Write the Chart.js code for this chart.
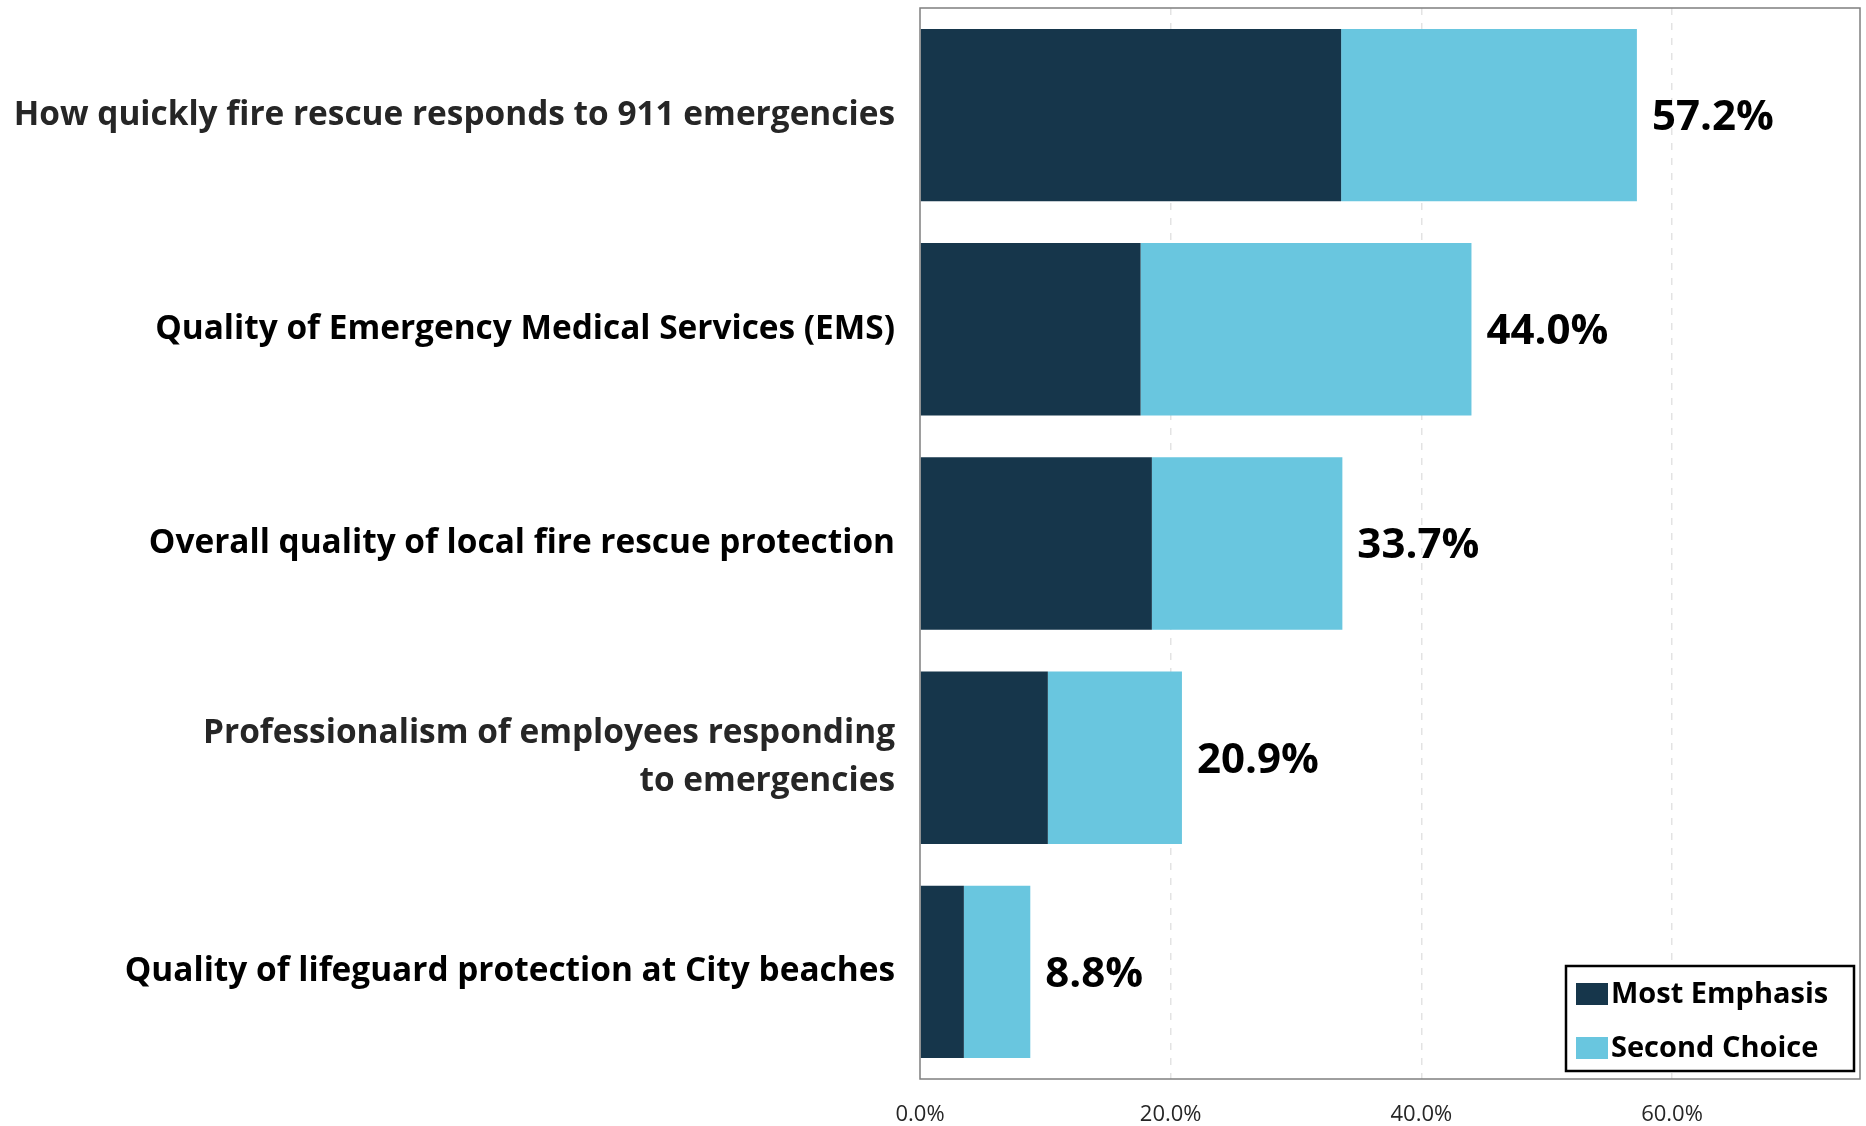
<!DOCTYPE html>
<html>
<head>
<meta charset="utf-8">
<title>Fire Rescue Emphasis</title>
<script src="https://cdn.jsdelivr.net/npm/chart.js@4"></script>
<style>
    html, body { margin: 0; padding: 0; background: #fff; }
    #wrap { width: 1866px; height: 1126px; }
</style>
</head>
<body>
<div id="wrap"><canvas id="emphasisChart" width="1866" height="1126"></canvas></div>
<script>
// categories (top to bottom)
const categories = [
    'How quickly fire rescue responds to 911 emergencies',
    'Quality of Emergency Medical Services (EMS)',
    'Overall quality of local fire rescue protection',
    ['Professionalism of employees responding', 'to emergencies'],
    'Quality of lifeguard protection at City beaches'
];
const seriesNames = ['Most Emphasis', 'Second Choice'];
// share of respondents, in percent
const mostEmphasis = [33.6, 17.6, 18.5, 10.2, 3.5];
const secondChoice = [23.6, 26.4, 15.2, 10.7, 5.3];
const totals = [57.2, 44.0, 33.7, 20.9, 8.8];
const xTicks = [0, 20, 40, 60];
const xMax = 75;

const barColors = ['#16364b', '#69c6df'];
const labelColors = ['#262626', '#000000', '#000000', '#262626', '#000000'];
const FONT = '"Open Sans", "DejaVu Sans", sans-serif';

// plot frame around the chart area
const framePlugin = {
    id: 'frame',
    afterDatasetsDraw(chart) {
        const { ctx, chartArea: a } = chart;
        ctx.save();
        ctx.strokeStyle = '#7f7f7f';
        ctx.lineWidth = 1.5;
        ctx.strokeRect(a.left, a.top, a.right - a.left, a.bottom - a.top);
        ctx.restore();
    }
};

// total value at the end of each bar
const totalLabelPlugin = {
    id: 'totalLabels',
    afterDatasetsDraw(chart) {
        const { ctx } = chart;
        const x = chart.scales.x;
        const meta = chart.getDatasetMeta(1);
        ctx.save();
        ctx.font = 'bold 42px ' + FONT;
        ctx.fillStyle = '#000';
        ctx.textAlign = 'left';
        ctx.textBaseline = 'middle';
        totals.forEach((t, i) => {
            const bar = meta.data[i];
            ctx.fillText(t.toFixed(1) + '%', x.getPixelForValue(t) + 15, bar.y + 3);
        });
        ctx.restore();
    }
};

// boxed legend in the lower right corner of the plot
const boxLegendPlugin = {
    id: 'boxLegend',
    afterDraw(chart) {
        const { ctx, chartArea: a } = chart;
        const boxW = 288, boxH = 105;
        const left = a.right - 6 - boxW;
        const top = a.bottom - 8 - boxH;
        ctx.save();
        ctx.fillStyle = '#fff';
        ctx.fillRect(left, top, boxW, boxH);
        ctx.strokeStyle = '#000';
        ctx.lineWidth = 2.5;
        ctx.strokeRect(left, top, boxW, boxH);
        ctx.font = 'bold 29px ' + FONT;
        ctx.textBaseline = 'middle';
        ctx.textAlign = 'left';
        chart.data.datasets.forEach((ds, i) => {
            const cy = top + 28 + i * 54;
            ctx.fillStyle = ds.backgroundColor;
            ctx.fillRect(left + 10, cy - 11, 32, 22);
            ctx.fillStyle = '#000';
            ctx.fillText(ds.label, left + 45, cy + 1);
        });
        ctx.restore();
    }
};

const ctx = document.getElementById('emphasisChart');
new Chart(ctx, {
    type: 'bar',
    data: {
        labels: categories,
        datasets: [
            { label: seriesNames[0], data: mostEmphasis, backgroundColor: barColors[0] },
            { label: seriesNames[1], data: secondChoice, backgroundColor: barColors[1] }
        ]
    },
    options: {
        indexAxis: 'y',
        responsive: false,
        animation: false,
        datasets: {
            bar: { categoryPercentage: 0.805, barPercentage: 1, borderWidth: 0 }
        },
        layout: { padding: { top: 8, right: 6, bottom: 0, left: 0 } },
        plugins: {
            legend: { display: false },
            tooltip: { enabled: false }
        },
        scales: {
            x: {
                stacked: true,
                min: 0,
                max: xMax,
                afterBuildTicks: s => { s.ticks = xTicks.map(v => ({ value: v })); },
                afterFit: s => { s.height = 47; },
                // dashed vertical gridlines
                border: { display: false, dash: [7, 8] },
                grid: {
                    drawTicks: false,
                    color: c => c.tick.value === 0 ? 'rgba(0,0,0,0)' : '#e3e3e3',
                    lineWidth: 1.5
                },
                ticks: {
                    padding: 23,
                    color: '#262626',
                    font: { family: FONT, size: 22 },
                    callback: v => v.toFixed(1) + '%'
                }
            },
            y: {
                stacked: true,
                afterFit: s => {
                    s.width = 920;
                    // no extra room for the first/last label
                    s.paddingTop = 0;
                    s.paddingBottom = 0;
                },
                border: { display: false },
                grid: { display: false, drawTicks: false },
                ticks: {
                    padding: 25,
                    color: c => labelColors[c.index],
                    font: { family: FONT, size: 33.4, weight: 'bold', lineHeight: 1.45 }
                }
            }
        }
    },
    plugins: [framePlugin, totalLabelPlugin, boxLegendPlugin]
});
</script>
</body>
</html>
